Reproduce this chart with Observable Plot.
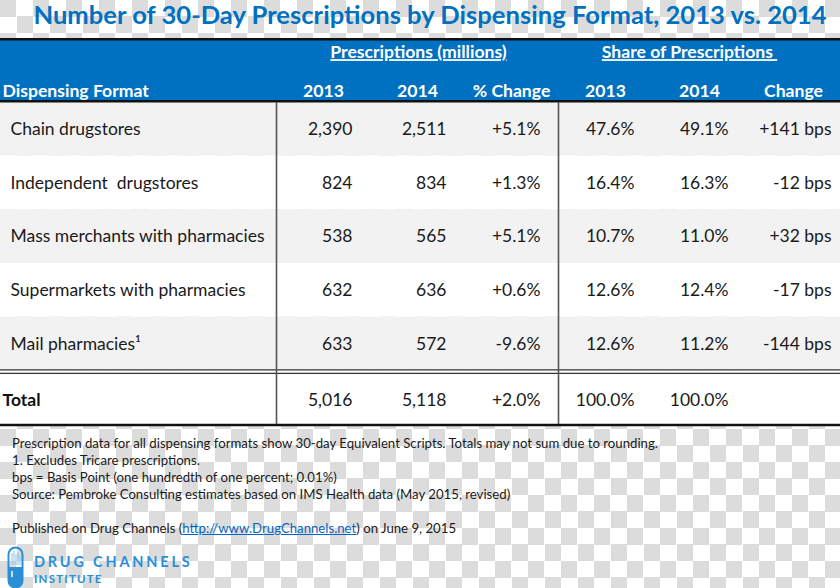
<!DOCTYPE html>
<html>
<head>
<meta charset="utf-8">
<script src="https://cdn.jsdelivr.net/npm/d3@7"></script>
<script src="https://cdn.jsdelivr.net/npm/@observablehq/plot@0.6"></script>
<style>
  html, body { margin: 0; padding: 0; }
  body {
    width: 840px; height: 588px; overflow: hidden; position: relative;
    font-family: Lato, "Open Sans", sans-serif;
    background: conic-gradient(#ffffff 25%, #dcdcdc 0 50%, #ffffff 0 75%, #dcdcdc 0) 0 0 / 33px 33px;
  }
  #title {
    position: absolute; left: 20px; top: 1px; width: 820px; text-align: center;
    font-weight: 700; font-size: 25.6px; line-height: 26px; color: #0070c0; white-space: nowrap;
  }
  #chart { position: absolute; left: 0; top: 36px; }
  #notes {
    position: absolute; left: 12px; top: 435px; font-size: 13.2px; line-height: 17px; color: #1a1a1a;
    white-space: nowrap;
  }
  #notes a { color: #0563c1; text-decoration: underline; }
  #logo { position: absolute; left: 0; top: 544px; }
</style>
</head>
<body>
<div id="title">Number of 30-Day Prescriptions by Dispensing Format, 2013 vs. 2014</div>
<div id="chart"></div>
<div id="notes">
  <div>Prescription data for all dispensing formats show 30-day Equivalent Scripts. Totals may not sum due to rounding.</div>
  <div>1. Excludes Tricare prescriptions.</div>
  <div>bps = Basis Point (one hundredth of one percent; 0.01%)</div>
  <div>Source: Pembroke Consulting estimates based on IMS Health data (May 2015, revised)</div>
  <div>&nbsp;</div>
  <div>Published on Drug Channels (<a>http://www.DrugChannels.net</a>) on June 9, 2015</div>
</div>
<div id="logo">
  <svg width="220" height="44" viewBox="0 0 220 44">
    <rect x="8.5" y="3.5" width="14" height="40" rx="7" fill="none" stroke="#2a8fd6" stroke-width="2"/>
    <path d="M8.5 23 H22.5 V36.5 A7 7 0 0 1 8.5 36.5 Z" fill="#2a8fd6"/>
    <g stroke="#8cc4ec" stroke-width="1">
      <line x1="12" y1="9" x2="12" y2="21"/><line x1="14" y1="7" x2="14" y2="21"/>
      <line x1="16" y1="10" x2="16" y2="21"/><line x1="18" y1="8" x2="18" y2="21"/>
      <line x1="20" y1="11" x2="20" y2="21"/>
    </g>
    <line x1="12" y1="27" x2="12" y2="33" stroke="#ffffff" stroke-width="1.5"/>
    <text x="34" y="23" font-family="Lato, sans-serif" font-weight="700" font-size="14.5" letter-spacing="2.8" fill="#2a8fd6">DRUG CHANNELS</text>
    <text x="34" y="39" font-family="Lato, sans-serif" font-weight="700" font-size="11.5" letter-spacing="1.2" fill="#2a8fd6">INSTITUTE</text>
  </svg>
</div>
<script>
// ---------- data ----------
const formats = ["Chain drugstores", "Independent  drugstores", "Mass merchants with pharmacies", "Supermarkets with pharmacies", "Mail pharmacies\u00b9"];
const rx2013 = [2390, 824, 538, 632, 633];
const rx2014 = [2511, 834, 565, 636, 572];
const rxPctChange = [5.1, 1.3, 5.1, 0.6, -9.6];
const share2013 = [47.6, 16.4, 10.7, 12.6, 12.6];
const share2014 = [49.1, 16.3, 11.0, 12.4, 11.2];
const shareChangeBps = [141, -12, 32, -17, -144];
const totalLabel = "Total";
const total2013 = 5016;
const total2014 = 5118;
const totalPctChange = 2.0;
const totalShare2013 = 100.0;
const totalShare2014 = 100.0;
const groupHeaders = ["Prescriptions (millions)", "Share of Prescriptions\u00a0"];
const columnHeaders = ["Dispensing Format", "2013", "2014", "% Change", "2013", "2014", "Change"];

// ---------- layout ----------
const W = 840, H = 392, TOP = 36;
const colEdges = [0, 276, 370, 464, 558, 652, 746, 840];
const padRight = [0, 18, 18, 18, 18, 18, 9];
const groupCenterShift = [1, -10];
const bodyTop = 102 - TOP, bodyBottom = 424 - TOP;
const nRows = formats.length + 1;
const rowH = (bodyBottom - bodyTop) / nRows;
const idx = (absY) => (absY - TOP - bodyTop) / rowH; // absolute page y -> row index units

const fmtInt = d3.format(",");
const fmtPct = (v) => (v < 0 ? "-" : "+") + Math.abs(v).toFixed(1) + "%";
const fmtShare = (v) => v.toFixed(1) + "%";
const fmtBps = (v) => (v >= 0 ? "+" : "-") + Math.abs(v) + " bps";

// body cells
const cells = [];
formats.forEach((f, i) => {
  const vals = [fmtInt(rx2013[i]), fmtInt(rx2014[i]), fmtPct(rxPctChange[i]), fmtShare(share2013[i]), fmtShare(share2014[i]), fmtBps(shareChangeBps[i])];
  vals.forEach((t, c) => cells.push({row: i, t, x: colEdges[c + 2] - padRight[c + 1]}));
});
const totalVals = [fmtInt(total2013), fmtInt(total2014), fmtPct(totalPctChange), fmtShare(totalShare2013), fmtShare(totalShare2014)];
totalVals.forEach((t, c) => cells.push({row: formats.length, t, x: colEdges[c + 2] - padRight[c + 1]}));

const rowBands = d3.range(nRows).map((i) => ({i, fill: (i % 2 === 0 && i < formats.length) ? "#f2f2f2" : "#ffffff"}));
const labelRows = formats.map((f, i) => ({i, t: f}));

const hdr1 = groupHeaders.map((t, g) => ({t, x: (g === 0 ? (colEdges[1] + colEdges[4]) / 2 : (colEdges[4] + colEdges[7]) / 2) + groupCenterShift[g]}));
const hdr2 = columnHeaders.map((t, c) => ({t, x: c === 0 ? 2 : (colEdges[c] + colEdges[c + 1]) / 2, anchor: c === 0 ? "start" : "middle"}));

const plot = Plot.plot({
  width: W, height: H,
  marginTop: 0, marginBottom: 0, marginLeft: 0, marginRight: 0,
  x: {type: "linear", domain: [0, W], range: [0, W], axis: null},
  y: {type: "linear", domain: [0, nRows], range: [bodyTop, bodyBottom], axis: null},
  style: {fontFamily: "Lato, 'Open Sans', sans-serif", background: "transparent", overflow: "visible"},
  marks: [
    // header band
    Plot.rect([0], {x1: 0, x2: W, y1: idx(39.5), y2: idx(100.5), fill: "#0070c0"}),
    // row bands
    Plot.rect(rowBands, {x1: 0, x2: W, y1: "i", y2: (d) => d.i + 1, fill: "fill"}),
    // header texts
    Plot.text(hdr1, {x: "x", y: idx(52), text: "t", fill: "white", fontWeight: "bold", fontSize: 17.6, textAnchor: "middle"}),
    Plot.text(hdr2.filter((d) => d.anchor === "start"), {x: "x", y: idx(91), text: "t", fill: "white", fontWeight: "bold", fontSize: 17.6, textAnchor: "start"}),
    Plot.text(hdr2.filter((d) => d.anchor === "middle"), {x: "x", y: idx(91), text: "t", fill: "white", fontWeight: "bold", fontSize: 17.6, textAnchor: "middle"}),
    // row labels
    Plot.text(labelRows, {x: 10, y: (d) => d.i + 0.5, text: "t", textAnchor: "start", fontSize: 17.5, fill: "#1a1a1a"}),
    Plot.text([totalLabel], {x: 2, y: formats.length + 0.55, text: (d) => d, textAnchor: "start", fontSize: 17.5, fontWeight: "bold", fill: "#111"}),
    // cell values
    Plot.text(cells, {x: "x", y: (d) => d.row + (d.row === formats.length ? 0.55 : 0.5), text: "t", textAnchor: "end", fontSize: 17.5, fill: "#1a1a1a"}),
    // rules
    Plot.ruleY([idx(38.8)], {stroke: "#111", strokeWidth: 2.4}),
    Plot.ruleY([idx(100.8)], {stroke: "#111", strokeWidth: 2.4}),
    Plot.ruleY([idx(369.4), idx(372.9)], {stroke: "#333", strokeWidth: 1.4}),
    Plot.ruleY([idx(424.5)], {stroke: "#111", strokeWidth: 2.4}),
    Plot.ruleX([colEdges[1], colEdges[4]], {y1: 0, y2: nRows, stroke: "#555", strokeWidth: 1.6})
  ]
});
document.getElementById("chart").appendChild(plot);
d3.select(plot).selectAll("text")
  .filter(function () { return groupHeaders.includes(this.textContent); })
  .attr("text-decoration", "underline")
  .style("white-space", "pre");
</script>
</body>
</html>
